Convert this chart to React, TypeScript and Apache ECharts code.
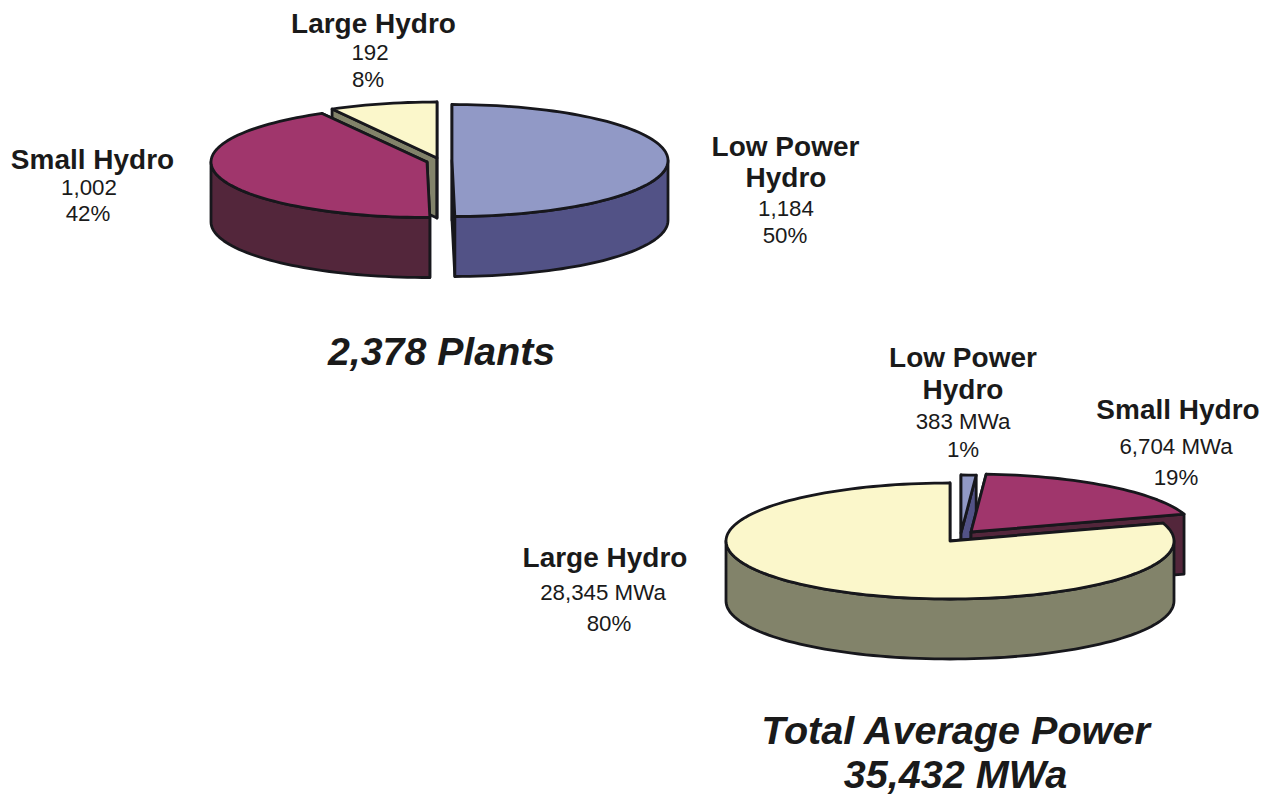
import React, { useEffect, useRef } from "react";
import * as echarts from "echarts";

const plantCategories = ["Low Power Hydro", "Small Hydro", "Large Hydro"];
const plantValues = [1184, 1002, 192];
const powerCategories = ["Low Power Hydro", "Small Hydro", "Large Hydro"];
const powerValues = [383, 6704, 28345];

const plantTitle = "2,378 Plants";
const powerTitle = ["Total Average Power", "35,432 MWa"];

const topColors = ["#9199c6", "#a0366c", "#fbf7cb"];
const sideColors = ["#525286", "#53263b", "#82836a"];
const edgeColor = "#17171c";

// Geometry of each exploded slice: apex x, apex y, radii and extrusion depth
const plantSlices = [
  { cx: 452, cy: 160.5, rx: 216, ry: 56, depth: 60 },
  { cx: 427, cy: 162, rx: 216, ry: 55.5, depth: 60 },
  { cx: 437, cy: 158, rx: 216, ry: 56, depth: 60 },
];
const powerSlices = [
  { cx: 961, cy: 533, rx: 224, ry: 58, depth: 60 },
  { cx: 971, cy: 532, rx: 224, ry: 58, depth: 60 },
  { cx: 950, cy: 541, rx: 224, ry: 58, depth: 60 },
];
const plantPaintOrder = [2, 1, 0];
const powerPaintOrder = [0, 1, 2];

type Lbl = [string, number, number, boolean];
const labelRows: Lbl[] = [
  ["Large Hydro", 373.5, 24, true],
  ["192", 370, 52, false],
  ["8%", 368, 79, false],
  ["Small Hydro", 92.5, 160, true],
  ["1,002", 89, 187, false],
  ["42%", 88, 213, false],
  ["Low Power", 785.5, 147, true],
  ["Hydro", 786, 178, true],
  ["1,184", 786, 208, false],
  ["50%", 785, 235, false],
  ["Low Power", 963, 358, true],
  ["Hydro", 963, 390, true],
  ["383 MWa", 963, 421, false],
  ["1%", 963, 449, false],
  ["Small Hydro", 1178, 410, true],
  ["6,704 MWa", 1176, 446, false],
  ["19%", 1176, 477, false],
  ["Large Hydro", 605, 558, true],
  ["28,345 MWa", 603, 592, false],
  ["80%", 609, 623, false],
];

const FONT = '"Liberation Sans", Arial, sans-serif';

function pieSeries(values: number[], slices: any[], paintOrder: number[]) {
  const total = values.reduce((a, b) => a + b, 0);
  let run = 0;
  const spans = values.map((v) => {
    const s = (run / total) * 360;
    run += v;
    return [s, (run / total) * 360];
  });
  const lineStyle = (fill: string) => ({ fill, stroke: edgeColor, lineWidth: 2.8, lineJoin: "round" });
  return {
    type: "custom",
    coordinateSystem: "none",
    silent: true,
    clip: false,
    data: paintOrder.map((i) => [values[i], spans[i][0], spans[i][1], i]),
    renderItem: (_p: any, api: any) => {
      const a0 = api.value(1);
      const a1 = api.value(2);
      const i = api.value(3);
      const g = slices[i];
      const pt = (deg: number, drop = 0) => {
        const t = (deg * Math.PI) / 180;
        return [g.cx + g.rx * Math.sin(t), g.cy - g.ry * Math.cos(t) + drop];
      };
      const arc = (from: number, to: number, drop = 0) => {
        const n = Math.max(2, Math.ceil((to - from) / 2));
        const out: number[][] = [];
        for (let k = 0; k <= n; k++) out.push(pt(from + ((to - from) * k) / n, drop));
        return out;
      };
      const children: any[] = [];
      const poly = (points: number[][], fill: string) =>
        children.push({ type: "polygon", shape: { points }, style: lineStyle(fill) });
      const apex = [g.cx, g.cy];
      const apexLow = [g.cx, g.cy + g.depth];
      for (const a of [a0, a1]) {
        poly([apex, pt(a), pt(a, g.depth), apexLow], sideColors[i]);
      }
      const w0 = Math.max(a0, 90);
      const w1 = Math.min(a1, 270);
      if (w1 > w0) {
        poly([...arc(w0, w1), ...arc(w0, w1, g.depth).reverse()], sideColors[i]);
      }
      poly([apex, ...arc(a0, a1)], topColors[i]);
      return { type: "group", children };
    },
  };
}

export default function App() {
  const ref = useRef<HTMLDivElement>(null);
  useEffect(() => {
    const chart = echarts.init(ref.current!, undefined, { renderer: "svg" });
    const text = (s: string, x: number, y: number, font: string, size: number, scaleX = 1) => ({
      type: "text",
      x,
      y,
      scaleX,
      style: {
        text: s,
        x: 0,
        y: 0,
        align: "center",
        verticalAlign: "middle",
        fill: "#1a1a1a",
        lineHeight: size * 0.8,
        font: `${font} ${size}px ${FONT}`,
      },
    });
    chart.setOption({
      animation: false,
      backgroundColor: "#ffffff",
      series: [
        pieSeries(plantValues, plantSlices, plantPaintOrder),
        pieSeries(powerValues, powerSlices, powerPaintOrder),
      ],
      graphic: [
        ...labelRows.map(([s, x, y, bold]) =>
          bold ? text(s, x, y, "bold", 27, 1.037) : text(s, x, y, "normal", 22.3)
        ),
        text(plantTitle, 441.5, 350.5, "italic bold", 39.3),
        text(powerTitle[0], 955.5, 730, "italic bold", 39.6),
        text(powerTitle[1], 955.5, 773.5, "italic bold", 39.6),
      ],
    });
    return () => chart.dispose();
  }, []);
  return (
    <div
      ref={ref}
      style={{ position: "absolute", left: 0, top: 0, width: 1270, height: 794, background: "#fff" }}
    />
  );
}
